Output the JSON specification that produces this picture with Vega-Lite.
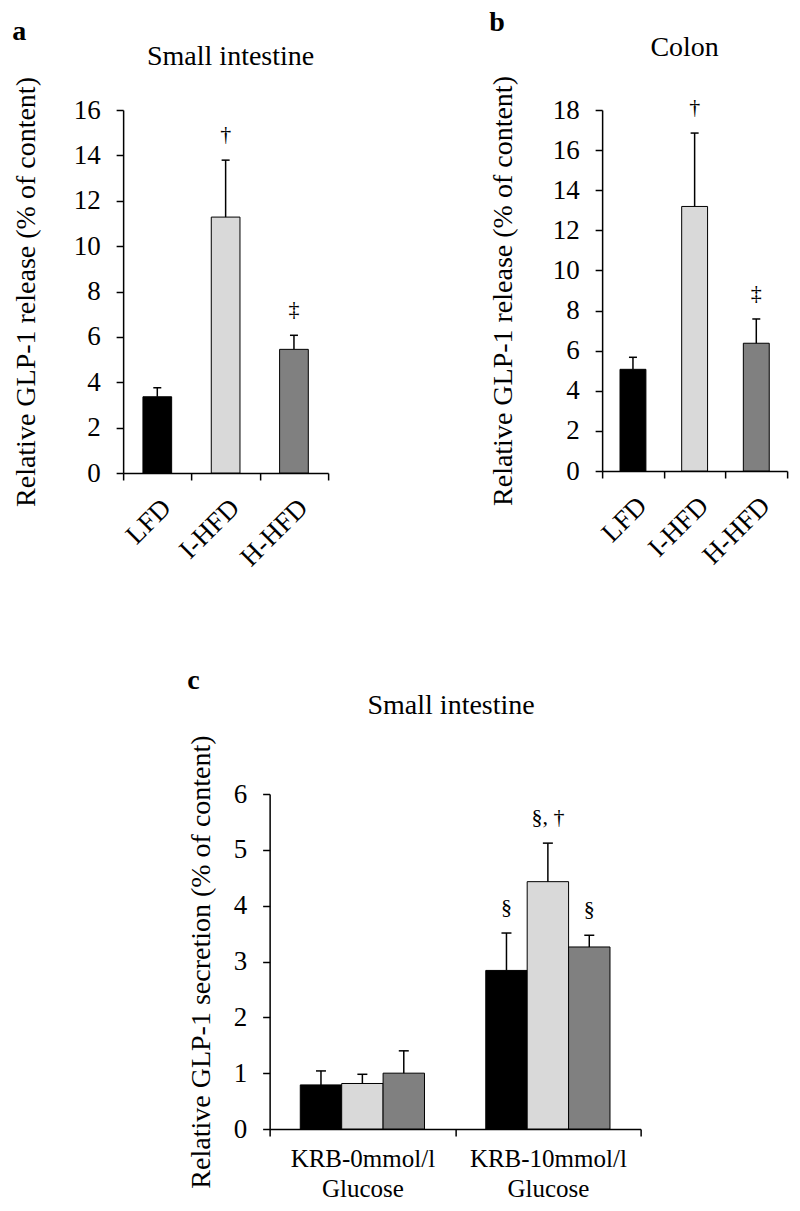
{
  "$schema": "https://vega.github.io/schema/vega-lite/v6.json",
  "padding": {"left": 12, "top": 8, "right": 5, "bottom": 5},
  "background": "white",
  "config": {
    "font": "Liberation Serif",
    "view": {"stroke": null},
    "axis": {"domainColor": "black", "tickColor": "black", "labelColor": "black", "titleColor": "black", "labelFontSize": 27, "titleFontSize": 28, "titleFontWeight": "normal", "tickSize": 7, "domainWidth": 1.5, "tickWidth": 1.5, "grid": false, "labelPadding": 16},
    "title": {"fontSize": 28, "fontWeight": "normal", "color": "black"}
  },
  "datasets": {
    "a": [
      {"group": "LFD", "mean": 3.36, "upper": 3.76, "label": ""},
      {"group": "I-HFD", "mean": 11.28, "upper": 13.79, "label": "†"},
      {"group": "H-HFD", "mean": 5.45, "upper": 6.07, "label": "‡"}
    ],
    "b": [
      {"group": "LFD", "mean": 5.07, "upper": 5.67, "label": ""},
      {"group": "I-HFD", "mean": 13.19, "upper": 16.85, "label": "†"},
      {"group": "H-HFD", "mean": 6.37, "upper": 7.58, "label": "‡"}
    ],
    "c": [
      {"condition": "KRB-0mmol/l Glucose", "group": "LFD", "mean": 0.79, "upper": 1.04, "label": ""},
      {"condition": "KRB-0mmol/l Glucose", "group": "I-HFD", "mean": 0.815, "upper": 0.98, "label": ""},
      {"condition": "KRB-0mmol/l Glucose", "group": "H-HFD", "mean": 1.0, "upper": 1.4, "label": ""},
      {"condition": "KRB-10mmol/l Glucose", "group": "LFD", "mean": 2.84, "upper": 3.51, "label": "§"},
      {"condition": "KRB-10mmol/l Glucose", "group": "I-HFD", "mean": 4.43, "upper": 5.12, "label": "§, †"},
      {"condition": "KRB-10mmol/l Glucose", "group": "H-HFD", "mean": 3.26, "upper": 3.47, "label": "§"}
    ]
  },
  "spacing": 95,
  "center": true,
  "vconcat": [
    {
      "spacing": 160,
      "hconcat": [
        {
          "title": {"text": "a", "anchor": "start", "fontWeight": "bold", "fontSize": 28, "offset": -3},
          "vconcat": [
            {
              "width": 205, "height": 363,
              "title": {"text": "Small intestine", "frame": "group", "offset": 6, "dx": 5},
              "data": {"name": "a"},
              "encoding": {
                "x": {"field": "group", "type": "nominal", "sort": null, "scale": {"paddingInner": 0, "paddingOuter": 0}, "axis": {"title": null, "tickBand": "extent", "labelAngle": -45, "labelAlign": "right", "labelBaseline": "top", "labelPadding": 14}}
              },
              "layer": [
                {"mark": {"type": "bar", "width": {"band": 0.42}, "stroke": "black", "strokeWidth": 1},
                 "encoding": {
                   "y": {"field": "mean", "type": "quantitative", "title": "Relative GLP-1 release (% of content)", "scale": {"domain": [0, 16]}, "axis": {"values": [0, 2, 4, 6, 8, 10, 12, 14, 16], "titlePadding": 33}},
                   "color": {"field": "group", "type": "nominal", "scale": {"domain": ["LFD", "I-HFD", "H-HFD"], "range": ["#000000", "#d9d9d9", "#808080"]}, "legend": null}
                 }},
                {"mark": {"type": "rule", "color": "black", "strokeWidth": 1.5},
                 "encoding": {"y": {"field": "mean", "type": "quantitative", "title": "Relative GLP-1 release (% of content)"}, "y2": {"field": "upper"}}},
                {"mark": {"type": "tick", "color": "black", "size": 8, "thickness": 1.5, "opacity": 1},
                 "encoding": {"y": {"field": "upper", "type": "quantitative", "title": "Relative GLP-1 release (% of content)"}}},
                {"mark": {"type": "text", "baseline": "bottom", "dy": -14, "fontSize": 22, "color": "black"},
                 "encoding": {"y": {"field": "upper", "type": "quantitative", "title": "Relative GLP-1 release (% of content)"}, "text": {"field": "label"}}}
              ]
            }
          ]
        },
        {
          "title": {"text": "b", "anchor": "start", "fontWeight": "bold", "fontSize": 28, "offset": -3},
          "vconcat": [
            {
              "width": 185, "height": 361,
              "title": {"text": "Colon", "frame": "group", "offset": 14, "dx": -10},
              "data": {"name": "b"},
              "encoding": {
                "x": {"field": "group", "type": "nominal", "sort": null, "scale": {"paddingInner": 0, "paddingOuter": 0}, "axis": {"title": null, "tickBand": "extent", "labelAngle": -45, "labelAlign": "right", "labelBaseline": "top", "labelPadding": 14}}
              },
              "layer": [
                {"mark": {"type": "bar", "width": {"band": 0.42}, "stroke": "black", "strokeWidth": 1},
                 "encoding": {
                   "y": {"field": "mean", "type": "quantitative", "title": "Relative GLP-1 release (% of content)", "scale": {"domain": [0, 18]}, "axis": {"values": [0, 2, 4, 6, 8, 10, 12, 14, 16, 18], "titlePadding": 35}},
                   "color": {"field": "group", "type": "nominal", "scale": {"domain": ["LFD", "I-HFD", "H-HFD"], "range": ["#000000", "#d9d9d9", "#808080"]}, "legend": null}
                 }},
                {"mark": {"type": "rule", "color": "black", "strokeWidth": 1.5},
                 "encoding": {"y": {"field": "mean", "type": "quantitative", "title": "Relative GLP-1 release (% of content)"}, "y2": {"field": "upper"}}},
                {"mark": {"type": "tick", "color": "black", "size": 8, "thickness": 1.5, "opacity": 1},
                 "encoding": {"y": {"field": "upper", "type": "quantitative", "title": "Relative GLP-1 release (% of content)"}}},
                {"mark": {"type": "text", "baseline": "bottom", "dy": -14, "fontSize": 22, "color": "black"},
                 "encoding": {"y": {"field": "upper", "type": "quantitative", "title": "Relative GLP-1 release (% of content)"}, "text": {"field": "label"}}}
              ]
            }
          ]
        }
      ]
    },
    {
      "title": {"text": "c", "anchor": "start", "fontWeight": "bold", "fontSize": 28, "offset": -3},
      "vconcat": [
        {
          "width": 371, "height": 335,
          "title": {"text": "Small intestine", "frame": "group", "offset": 15, "dx": -4},
          "data": {"name": "c"},
          "encoding": {
            "x": {"field": "condition", "type": "nominal", "sort": null, "scale": {"paddingInner": 0, "paddingOuter": 0}, "axis": {"title": null, "tickBand": "extent", "labelAngle": 0, "labelExpr": "split(datum.label, ' ')", "labelLineHeight": 30, "labelFontSize": 25, "labelPadding": 10, "labelBaseline": "top"}},
            "xOffset": {"field": "group", "type": "nominal", "sort": ["LFD", "I-HFD", "H-HFD"], "scale": {"paddingInner": 0, "paddingOuter": 0.74}}
          },
          "layer": [
            {"mark": {"type": "bar", "stroke": "black", "strokeWidth": 1},
             "encoding": {
               "y": {"field": "mean", "type": "quantitative", "title": "Relative GLP-1 secretion (% of content)", "scale": {"domain": [0, 6]}, "axis": {"values": [0, 1, 2, 3, 4, 5, 6], "format": "d", "titlePadding": 18}},
               "color": {"field": "group", "type": "nominal", "scale": {"domain": ["LFD", "I-HFD", "H-HFD"], "range": ["#000000", "#d9d9d9", "#808080"]}, "legend": null}
             }},
            {"mark": {"type": "rule", "color": "black", "strokeWidth": 1.5},
             "encoding": {"y": {"field": "mean", "type": "quantitative", "title": "Relative GLP-1 secretion (% of content)"}, "y2": {"field": "upper"}}},
            {"mark": {"type": "tick", "color": "black", "size": 10, "thickness": 1.5, "opacity": 1},
             "encoding": {"y": {"field": "upper", "type": "quantitative", "title": "Relative GLP-1 secretion (% of content)"}}},
            {"mark": {"type": "text", "baseline": "bottom", "dy": -14, "fontSize": 22, "color": "black"},
             "encoding": {"y": {"field": "upper", "type": "quantitative", "title": "Relative GLP-1 secretion (% of content)"}, "text": {"field": "label"}}}
          ]
        }
      ]
    }
  ]
}
